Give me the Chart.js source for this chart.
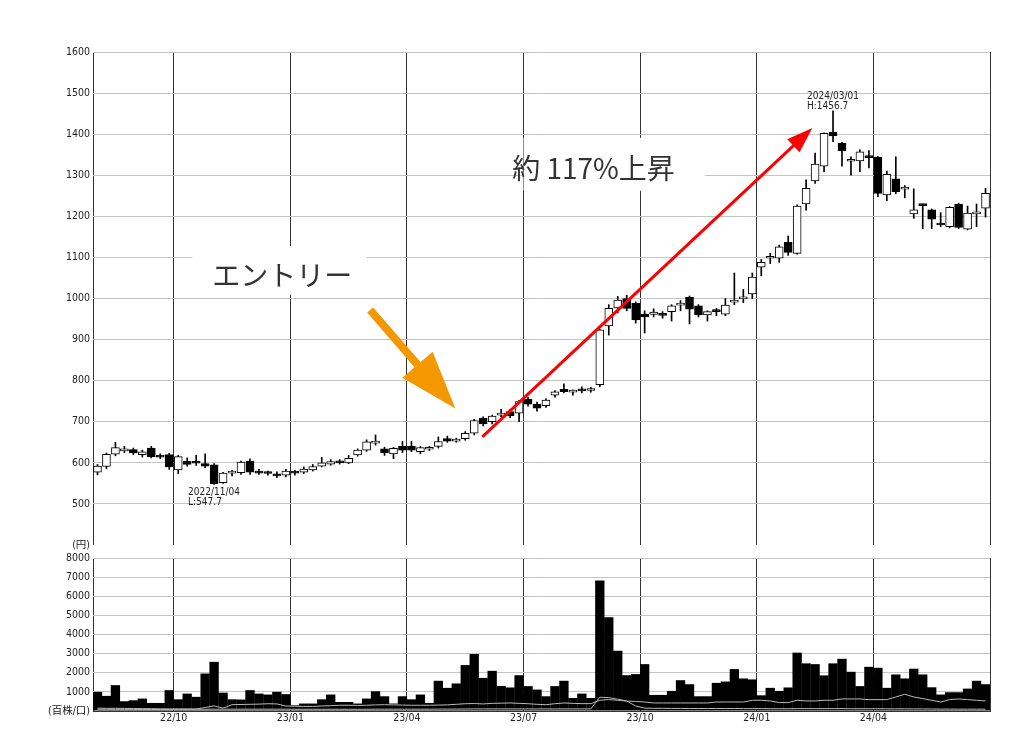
<!DOCTYPE html>
<html lang="ja">
<head>
<meta charset="utf-8">
<title>週足チャート</title>
<script src="https://cdn.jsdelivr.net/npm/chart.js@4.4.1/dist/chart.umd.min.js"></script>
<style>
  html, body { margin: 0; padding: 0; background: #fff; }
  #wrap { position: relative; width: 1024px; height: 744px; overflow: hidden; }
  #priceChart { position: absolute; left: 0; top: 0; }
  #volumeChart { position: absolute; left: 0; top: 548px; }
</style>
</head>
<body>
<div id="wrap">
  <canvas id="priceChart" width="1024" height="560"></canvas>
  <canvas id="volumeChart" width="1024" height="196"></canvas>
</div>
<script>
// weekly candles, 2022/08 - 2024/06
const opens = [
  577, 591, 621, 629, 632, 620, 636, 616, 620, 583,
  604, 600, 598, 595, 552, 575, 576, 604, 577, 576,
  573, 570, 578, 577, 583, 592, 597, 604, 600, 619,
  631, 648, 634, 622, 640, 640, 627, 633, 640, 659,
  653, 659, 672, 709, 700, 716, 725, 721, 755, 743,
  739, 765, 779, 772, 779, 776, 790, 933, 977, 1000,
  988, 962, 961, 961, 968, 984, 1003, 982, 960, 972,
  962, 991, 999, 1011, 1076, 1098, 1098, 1137, 1110, 1230,
  1286, 1322, 1405, 1378, 1334, 1335, 1345, 1344, 1252, 1291,
  1266, 1206, 1228, 1216, 1181, 1175, 1230, 1169, 1206, 1220
];
const highs = [
  596, 624, 650, 640, 636, 631, 640, 622, 623, 618,
  612, 618, 622, 598, 577, 582, 604, 610, 584, 580,
  578, 584, 582, 590, 596, 613, 608, 608, 618, 634,
  656, 668, 638, 638, 652, 652, 640, 640, 663, 665,
  660, 676, 706, 712, 716, 730, 730, 752, 760, 748,
  756, 776, 792, 778, 785, 784, 925, 985, 1005, 1008,
  992, 970, 975, 968, 985, 995, 1006, 985, 970, 976,
  1000, 1062, 1022, 1062, 1095, 1110, 1130, 1152, 1228, 1289,
  1354, 1403, 1456.7, 1380, 1345, 1362, 1360, 1346, 1310, 1345,
  1275, 1267, 1230, 1218, 1209, 1224, 1232, 1225, 1230, 1268
];
const lows = [
  571, 586, 617, 625, 620, 614, 612, 610, 584, 574,
  592, 594, 588, 547.7, 550, 568, 572, 572, 572, 570,
  564, 566, 570, 574, 580, 590, 594, 597, 598, 616,
  628, 643, 618, 610, 625, 627, 622, 630, 636, 650,
  650, 655, 668, 690, 695, 712, 710, 700, 738, 726,
  735, 760, 770, 765, 770, 772, 785, 911, 965, 970,
  940, 916, 955, 952, 945, 970, 938, 955, 945, 958,
  958, 985, 990, 1000, 1055, 1085, 1088, 1105, 1108, 1215,
  1280, 1309, 1382, 1322, 1300, 1309, 1318, 1248, 1238, 1255,
  1245, 1195, 1170, 1170, 1175, 1172, 1170, 1167, 1175, 1198
];
const closes = [
  592, 621, 637, 634, 624, 627, 615, 614, 590, 615,
  596, 599, 592, 549, 575, 577, 602, 577, 575, 574,
  568, 580, 575, 585, 591, 600, 603, 600, 611, 631,
  651, 650, 624, 635, 631, 631, 637, 635, 652, 653,
  657, 672, 703, 695, 714, 721, 715, 749, 743, 733,
  753, 773, 773, 774, 775, 780, 924, 976, 996, 976,
  948, 955, 967, 959, 982, 986, 974, 960, 968, 968,
  984, 993, 1001, 1052, 1088, 1100, 1126, 1112, 1225, 1268,
  1327, 1402, 1396, 1359, 1336, 1357, 1343, 1256, 1302, 1260,
  1271, 1216, 1226, 1193, 1179, 1222, 1173, 1208, 1210, 1256
];
const volumes = [
  1000, 790, 1350, 510, 560, 650, 420, 420, 1090, 610,
  910, 740, 1960, 2570, 960, 610, 600, 1090, 910, 860,
  1000, 880, 300, 390, 390, 610, 860, 470, 470, 390,
  650, 1030, 770, 390, 770, 610, 860, 420, 1580, 1210,
  1440, 2400, 2980, 1730, 2100, 1310, 1230, 1870, 1300, 1120,
  770, 1300, 1580, 680, 910, 680, 6830, 4900, 3150, 1870,
  1930, 2450, 840, 840, 1050, 1610, 1400, 770, 770, 1470,
  1540, 2190, 1700, 1650, 820, 1210, 1050, 1230, 3050, 2490,
  2450, 1860, 2490, 2730, 2050, 1300, 2310, 2260, 1210, 1910,
  1700, 2210, 1910, 1240, 860, 980, 980, 1170, 1580, 1400
];
// the two thin lines inside the volume panel
const volLineA = [
  150, 140, 140, 135, 130, 125, 120, 115, 110, 110,
  110, 110, 180, 270, 150, 330, 340, 350, 360, 380,
  370, 260, 250, 240, 240, 260, 280, 300, 300, 290,
  300, 320, 330, 320, 310, 300, 300, 300, 310, 320,
  350, 380, 390, 370, 400, 410, 420, 400, 380, 350,
  330, 380, 420, 400, 385, 385, 560, 600, 560, 520,
  500, 470, 420, 420, 420, 420, 420, 420, 420, 470,
  470, 470, 470, 560, 560, 525, 440, 440, 560, 525,
  525, 560, 560, 630, 630, 630, 595, 595, 595, 735,
  875, 735, 650, 560, 470, 595, 630, 595, 560, 525
];
const volLineB = [
  90, 90, 85, 85, 85, 80, 80, 80, 80, 85,
  85, 85, 90, 95, 95, 95, 95, 95, 95, 95,
  95, 95, 90, 90, 90, 90, 90, 90, 90, 90,
  90, 95, 95, 95, 95, 95, 95, 95, 100, 100,
  100, 105, 110, 110, 110, 110, 110, 110, 110, 110,
  110, 110, 110, 110, 110, 110, 720, 700, 620, 520,
  260, 150, 140, 140, 135, 135, 130, 130, 130, 130,
  130, 130, 125, 125, 125, 120, 120, 120, 125, 125,
  125, 125, 125, 125, 120, 120, 120, 120, 115, 115,
  115, 110, 110, 105, 100, 100, 95, 95, 95, 95
];
const quarterWeeks = [9, 22, 35, 48, 61, 74, 87];
const quarterLabels = ['22/10', '23/01', '23/04', '23/07', '23/10', '24/01', '24/04'];
const lowNote = { index: 13, date: '2022/11/04' };
const highNote = { index: 82, date: '2024/03/01' };

const FONT = '"DejaVu Sans Condensed", "DejaVu Sans", "Noto Sans CJK JP", sans-serif';
const JP_FONT = '"Noto Sans CJK JP", sans-serif';
const WEEKS = opens.length;

// callouts, placed in chart units (week index, price)
const callouts = [
  { text: 'エントリー', x: 21.1, y: 1057, box: [11.1, 30.5, 1128, 1009] },
  { text: '約 117%上昇', x: 55.8, y: 1317, box: [48.0, 68.2, 1391, 1262] }
];
const arrows = [
  { from: [30.9, 972], to: [40.4, 732], color: '#f39800', width: 8, head: 58, headWidth: 40 },
  { from: [43.4, 663], to: [80.2, 1415], color: '#ff0000', width: 3, head: 26, headWidth: 18 }
];

Chart.defaults.font.family = FONT;
Chart.defaults.font.size = 10.5;
Chart.defaults.color = '#222';

function drawArrow(ctx, x1, y1, x2, y2, a) {
  const len = Math.hypot(x2 - x1, y2 - y1);
  const ux = (x2 - x1) / len, uy = (y2 - y1) / len;
  const bx = x2 - ux * a.head, by = y2 - uy * a.head;
  ctx.strokeStyle = a.color;
  ctx.lineWidth = a.width;
  ctx.lineCap = 'butt';
  ctx.beginPath();
  ctx.moveTo(x1, y1);
  ctx.lineTo(bx + ux * 2, by + uy * 2);
  ctx.stroke();
  ctx.fillStyle = a.color;
  ctx.beginPath();
  ctx.moveTo(x2, y2);
  ctx.lineTo(bx - uy * a.headWidth / 2, by + ux * a.headWidth / 2);
  ctx.lineTo(bx + uy * a.headWidth / 2, by - ux * a.headWidth / 2);
  ctx.closePath();
  ctx.fill();
}

const annotations = {
  id: 'annotations',
  beforeDatasetsDraw(chart) {
    const { ctx, scales: { x, y } } = chart;
    ctx.save();
    ctx.fillStyle = '#fff';
    callouts.forEach(c => {
      const x1 = x.getPixelForValue(c.box[0]), x2 = x.getPixelForValue(c.box[1]);
      const y1 = y.getPixelForValue(c.box[2]), y2 = y.getPixelForValue(c.box[3]);
      ctx.fillRect(x1, y1, x2 - x1, y2 - y1);
    });
    ctx.restore();
  },
  afterDatasetsDraw(chart) {
    const { ctx, scales: { x, y } } = chart;
    ctx.save();
    arrows.forEach(a => {
      drawArrow(ctx, x.getPixelForValue(a.from[0]), y.getPixelForValue(a.from[1]),
        x.getPixelForValue(a.to[0]), y.getPixelForValue(a.to[1]), a);
    });

    ctx.fillStyle = '#333';
    ctx.font = '28px ' + JP_FONT;
    ctx.textAlign = 'center';
    ctx.textBaseline = 'middle';
    callouts.forEach(c => ctx.fillText(c.text, x.getPixelForValue(c.x), y.getPixelForValue(c.y)));

    // low / high notes
    ctx.fillStyle = '#222';
    ctx.font = '10px ' + FONT;
    ctx.textAlign = 'left';
    ctx.textBaseline = 'alphabetic';
    const lx = x.getPixelForValue(lowNote.index + 0.5) - 26;
    const ly = y.getPixelForValue(lows[lowNote.index]);
    ctx.fillText(lowNote.date, lx, ly + 11);
    ctx.fillText('L:' + lows[lowNote.index].toFixed(1), lx, ly + 21);
    const hx = x.getPixelForValue(highNote.index + 0.5) - 26;
    const hy = y.getPixelForValue(highs[highNote.index]);
    ctx.fillText(highNote.date, hx, hy - 12);
    ctx.fillText('H:' + highs[highNote.index].toFixed(1), hx, hy - 1.5);
    ctx.restore();
  }
};

function quarterTicks(scale) {
  scale.ticks = [0, ...quarterWeeks, WEEKS].map(v => ({ value: v }));
}

const priceChart = new Chart(document.getElementById('priceChart'), {
  type: 'bar',
  data: {
    datasets: [
      {
        label: '実体',
        order: 0,
        data: opens.map((o, i) => ({ x: i + 0.5, y: [Math.min(o, closes[i]), Math.max(o, closes[i])] })),
        backgroundColor: opens.map((o, i) => closes[i] >= o ? '#fff' : '#000'),
        borderColor: '#000',
        borderWidth: 1,
        borderSkipped: false,
        barThickness: 8,
        minBarLength: 2,
        grouped: false
      },
      {
        label: 'ヒゲ',
        order: 1,
        data: lows.map((l, i) => ({ x: i + 0.5, y: [l, highs[i]] })),
        backgroundColor: '#000',
        borderWidth: 0,
        barThickness: 1,
        grouped: false
      }
    ]
  },
  options: {
    responsive: false,
    animation: false,
    devicePixelRatio: 1,
    layout: { padding: { top: 52, right: 34, bottom: 15, left: 0 } },
    plugins: { legend: { display: false }, tooltip: { enabled: false } },
    scales: {
      x: {
        type: 'linear',
        min: 0,
        max: WEEKS,
        offset: false,
        afterBuildTicks: quarterTicks,
        afterFit: s => { s.height = 0; },
        ticks: { display: false },
        grid: { color: '#333', lineWidth: 1, drawTicks: false, offset: false },
        border: { display: false }
      },
      y: {
        min: 400,
        max: 1600,
        afterFit: s => { s.width = 93; },
        ticks: {
          stepSize: 100,
          padding: 3,
          callback: v => v === 400 ? '(円)' : String(v)
        },
        grid: {
          drawTicks: false,
          color: c => c.tick && c.tick.value === 400 ? 'rgba(0,0,0,0)' : '#c4c4c4'
        },
        border: { display: false }
      }
    }
  },
  plugins: [annotations]
});

const volumeChart = new Chart(document.getElementById('volumeChart'), {
  type: 'bar',
  data: {
    datasets: [
      {
        type: 'line',
        label: '線A',
        order: 0,
        data: volLineA.map((v, i) => ({ x: i + 0.5, y: v })),
        borderColor: '#b8b8b8',
        borderWidth: 1,
        pointRadius: 0,
        tension: 0
      },
      {
        type: 'line',
        label: '線B',
        order: 0,
        data: volLineB.map((v, i) => ({ x: i + 0.5, y: v })),
        borderColor: '#b8b8b8',
        borderWidth: 1,
        pointRadius: 0,
        tension: 0
      },
      {
        label: '出来高',
        order: 1,
        data: volumes.map((v, i) => ({ x: i + 0.5, y: v })),
        backgroundColor: '#000',
        borderWidth: 0,
        barPercentage: 1.04,
        categoryPercentage: 1
      }
    ]
  },
  options: {
    responsive: false,
    animation: false,
    devicePixelRatio: 1,
    layout: { padding: { top: 10, right: 34, bottom: 0, left: 0 } },
    plugins: { legend: { display: false }, tooltip: { enabled: false } },
    scales: {
      x: {
        type: 'linear',
        min: 0,
        max: WEEKS,
        offset: false,
        afterBuildTicks: quarterTicks,
        afterFit: s => { s.height = 33; },
        ticks: {
          autoSkip: false,
          maxRotation: 0,
          padding: 1,
          callback: v => {
            const k = quarterWeeks.indexOf(v);
            return k >= 0 ? quarterLabels[k] : '';
          }
        },
        grid: { color: '#333', lineWidth: 1, drawTicks: false, offset: false },
        border: { display: true, color: '#333' }
      },
      y: {
        min: 0,
        max: 8000,
        afterFit: s => { s.width = 93; },
        ticks: {
          stepSize: 1000,
          padding: 3,
          callback: v => v === 0 ? '(百株/口)' : String(v)
        },
        grid: {
          drawTicks: false,
          color: c => c.tick && c.tick.value === 0 ? '#333' : '#c4c4c4'
        },
        border: { display: false }
      }
    }
  }
});
</script>
</body>
</html>
